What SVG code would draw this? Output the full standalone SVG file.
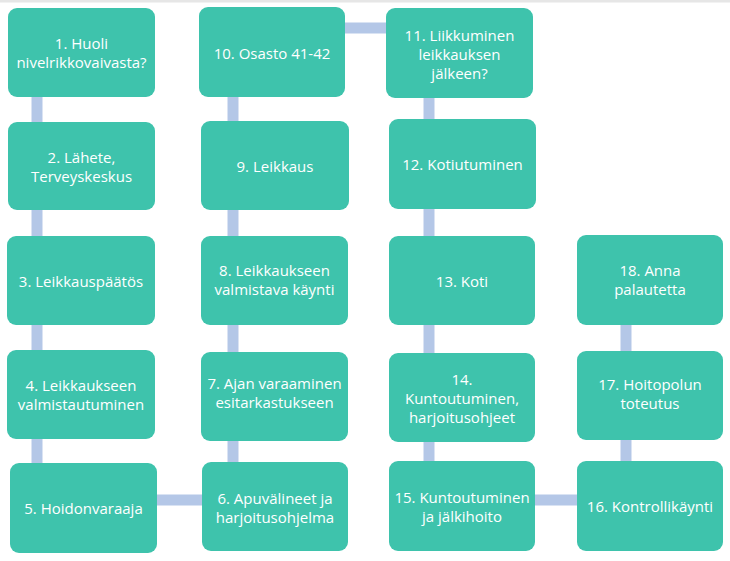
<svg xmlns="http://www.w3.org/2000/svg" width="730" height="561" viewBox="0 0 730 561">
<style>
.box{fill:#3ec3ac}
.t{font-family:"Open Sans","Liberation Sans",sans-serif;font-size:15px;fill:#ffffff;text-anchor:middle;dominant-baseline:central}
.c{stroke:#b4c7e7;stroke-width:11;fill:none}
</style>
<rect x="0" y="0" width="730" height="561" fill="#ffffff"/>
<rect x="0" y="0" width="730" height="2.5" fill="#e6e6e6"/>
<g id="connectors">
<line class="c" x1="37" y1="97" x2="37" y2="122"/>
<line class="c" x1="37" y1="210" x2="37" y2="236"/>
<line class="c" x1="37" y1="325" x2="37" y2="350"/>
<line class="c" x1="37" y1="439" x2="37" y2="463"/>
<line class="c" x1="157" y1="500" x2="202" y2="500"/>
<line class="c" x1="233" y1="441" x2="233" y2="462"/>
<line class="c" x1="233" y1="325" x2="233" y2="352"/>
<line class="c" x1="233" y1="210" x2="233" y2="236"/>
<line class="c" x1="233" y1="97" x2="233" y2="121"/>
<line class="c" x1="345" y1="28" x2="386" y2="28"/>
<line class="c" x1="429" y1="98" x2="429" y2="119"/>
<line class="c" x1="429" y1="209" x2="429" y2="236"/>
<line class="c" x1="429" y1="325" x2="429" y2="353"/>
<line class="c" x1="429" y1="442" x2="429" y2="461"/>
<line class="c" x1="535" y1="500" x2="577" y2="500"/>
<line class="c" x1="626" y1="440" x2="626" y2="461"/>
<line class="c" x1="626" y1="325" x2="626" y2="351"/>
</g>
<g id="n1"><rect class="box" x="8" y="8" width="147" height="89" rx="9"/><text class="t" x="81.5" y="43">1. Huoli</text><text class="t" x="81.5" y="62">nivelrikkovaivasta?</text></g>
<g id="n2"><rect class="box" x="8" y="122" width="147" height="88" rx="9"/><text class="t" x="81.5" y="157">2. Lähete,</text><text class="t" x="81.5" y="176">Terveyskeskus</text></g>
<g id="n3"><rect class="box" x="7" y="236" width="148" height="89" rx="9"/><text class="t" x="81" y="281">3. Leikkauspäätös</text></g>
<g id="n4"><rect class="box" x="7" y="350" width="148" height="89" rx="9"/><text class="t" x="81" y="385">4. Leikkaukseen</text><text class="t" x="81" y="404">valmistautuminen</text></g>
<g id="n5"><rect class="box" x="10" y="463" width="147" height="90" rx="9"/><text class="t" x="83.5" y="508">5. Hoidonvaraaja</text></g>
<g id="n6"><rect class="box" x="202" y="462" width="146" height="89" rx="9"/><text class="t" x="275" y="498">6. Apuvälineet ja</text><text class="t" x="275" y="517">harjoitusohjelma</text></g>
<g id="n7"><rect class="box" x="201" y="352" width="147" height="89" rx="9"/><text class="t" x="274.5" y="383">7. Ajan varaaminen</text><text class="t" x="274.5" y="402">esitarkastukseen</text></g>
<g id="n8"><rect class="box" x="201" y="236" width="147" height="89" rx="9"/><text class="t" x="274.5" y="270">8. Leikkaukseen</text><text class="t" x="274.5" y="289">valmistava käynti</text></g>
<g id="n9"><rect class="box" x="201" y="121" width="148" height="89" rx="9"/><text class="t" x="275" y="166">9. Leikkaus</text></g>
<g id="n10"><rect class="box" x="199" y="7" width="146" height="90" rx="9"/><text class="t" x="272" y="53">10. Osasto 41-42</text></g>
<g id="n11"><rect class="box" x="386" y="8" width="147" height="90" rx="9"/><text class="t" x="459.5" y="35">11. Liikkuminen</text><text class="t" x="459.5" y="54">leikkauksen</text><text class="t" x="459.5" y="73">jälkeen?</text></g>
<g id="n12"><rect class="box" x="389" y="119" width="147" height="90" rx="9"/><text class="t" x="462.5" y="164">12. Kotiutuminen</text></g>
<g id="n13"><rect class="box" x="389" y="236" width="146" height="89" rx="9"/><text class="t" x="462" y="281">13. Koti</text></g>
<g id="n14"><rect class="box" x="389" y="353" width="146" height="89" rx="9"/><text class="t" x="462" y="379">14.</text><text class="t" x="462" y="398">Kuntoutuminen,</text><text class="t" x="462" y="417">harjoitusohjeet</text></g>
<g id="n15"><rect class="box" x="389" y="461" width="146" height="90" rx="9"/><text class="t" x="462" y="497">15. Kuntoutuminen</text><text class="t" x="462" y="516">ja jälkihoito</text></g>
<g id="n16"><rect class="box" x="577" y="461" width="146" height="90" rx="9"/><text class="t" x="650" y="506">16. Kontrollikäynti</text></g>
<g id="n17"><rect class="box" x="577" y="351" width="146" height="89" rx="9"/><text class="t" x="650" y="384">17. Hoitopolun</text><text class="t" x="650" y="403">toteutus</text></g>
<g id="n18"><rect class="box" x="577" y="235" width="146" height="90" rx="9"/><text class="t" x="650" y="270">18. Anna</text><text class="t" x="650" y="289">palautetta</text></g>
</svg>
